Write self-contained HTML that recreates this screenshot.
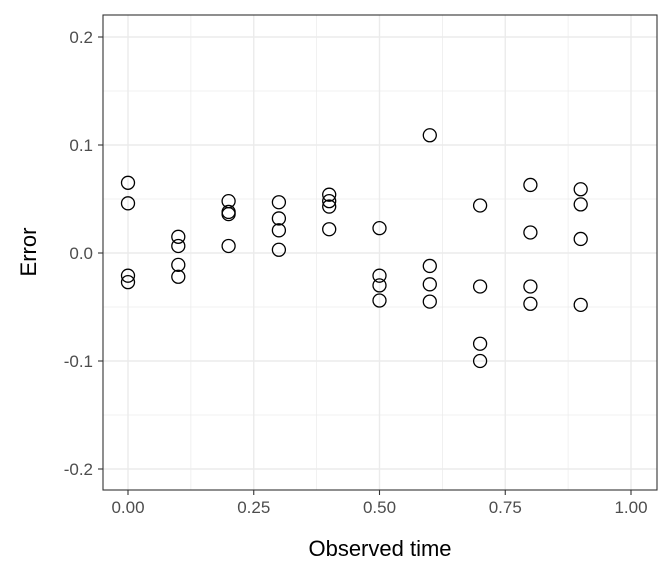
<!DOCTYPE html>
<html><head><meta charset="utf-8"><style>
body{margin:0;background:#fff;}
svg text{font-family:"Liberation Sans",sans-serif;}
</style></head><body>
<svg id="chart" width="672" height="576" xmlns="http://www.w3.org/2000/svg">
<rect width="672" height="576" fill="#fff"/>
<g id="grid"></g>
<g id="points"></g>
<rect x="103" y="15" width="554" height="475" fill="none" stroke="#333" stroke-width="1.1"/>
<g id="axes"></g>
<text x="380" y="556" text-anchor="middle" font-size="22" fill="#000">Observed time</text>
<text transform="translate(36,252) rotate(-90)" text-anchor="middle" font-size="22" fill="#000">Error</text>
</svg>
<script>
const xGroups = [0,0.1,0.2,0.3,0.4,0.5,0.6,0.7,0.8,0.9];
const errA = [0.065,0.015,0.048,0.047,0.054,0.023,0.109,0.044,0.063,0.059];
const errB = [0.046,0.0065,0.038,0.032,0.048,-0.021,-0.012,-0.031,0.019,0.045];
const errC = [-0.021,-0.011,0.036,0.021,0.043,-0.030,-0.029,-0.084,-0.031,0.013];
const errD = [-0.027,-0.022,0.0065,0.003,0.022,-0.044,-0.045,-0.100,-0.047,-0.048];
const xTicks = [0,0.25,0.5,0.75,1];
const xTickLabels = ["0.00","0.25","0.50","0.75","1.00"];
const yTicks = [-0.2,-0.1,0,0.1,0.2];
const yTickLabels = ["-0.2","-0.1","0.0","0.1","0.2"];
const NS="http://www.w3.org/2000/svg";
const X=v=>128+v*503, Y=v=>253-v*1080;
function mk(t,a,p){const e=document.createElementNS(NS,t);for(const k in a)e.setAttribute(k,a[k]);p.appendChild(e);return e;}
const grid=document.getElementById('grid'),axes=document.getElementById('axes'),pts=document.getElementById('points');
for(let i=0;i<xTicks.length;i++){
  const v=xTicks[i];
  let l=mk('line',{x1:X(v),x2:X(v),y1:15,y2:490,stroke:'#ebebeb','stroke-width':1.4},grid);
  
  
  if(i<xTicks.length-1){const m=(v+xTicks[i+1])/2;
    let n=mk('line',{x1:X(m),x2:X(m),y1:15,y2:490,stroke:'#ebebeb','stroke-width':0.7},grid);
    
    }
  let t=mk('line',{x1:X(v),x2:X(v),y1:490,y2:495,stroke:'#333','stroke-width':1.1},axes);
  
  
  let tx=mk('text',{x:X(v),y:513,'text-anchor':'middle','font-size':17,fill:'#4d4d4d'},axes);
  tx.textContent=xTickLabels[i];
  
  
}
for(let i=0;i<yTicks.length;i++){
  const v=yTicks[i];
  let l=mk('line',{x1:103,x2:657,y1:Y(v),y2:Y(v),stroke:'#ebebeb','stroke-width':1.4},grid);
  
  
  if(i<yTicks.length-1){const m=(v+yTicks[i+1])/2;
    let n=mk('line',{x1:103,x2:657,y1:Y(m),y2:Y(m),stroke:'#ebebeb','stroke-width':0.7},grid);
    
    }
  let t=mk('line',{x1:98,x2:103,y1:Y(v),y2:Y(v),stroke:'#333','stroke-width':1.1},axes);
  
  
  let tx=mk('text',{x:93,y:Y(v)+6,'text-anchor':'end','font-size':17,fill:'#4d4d4d'},axes);
  tx.textContent=yTickLabels[i];
  
  
}
[errA,errB,errC,errD].forEach(s=>{
  s.forEach((v,i)=>{
    let c=mk('circle',{cx:X(xGroups[i]),cy:Y(v),r:6.5,fill:'none',stroke:'#000','stroke-width':1.3},pts);
    
    
  });
});
</script>
</body></html>
